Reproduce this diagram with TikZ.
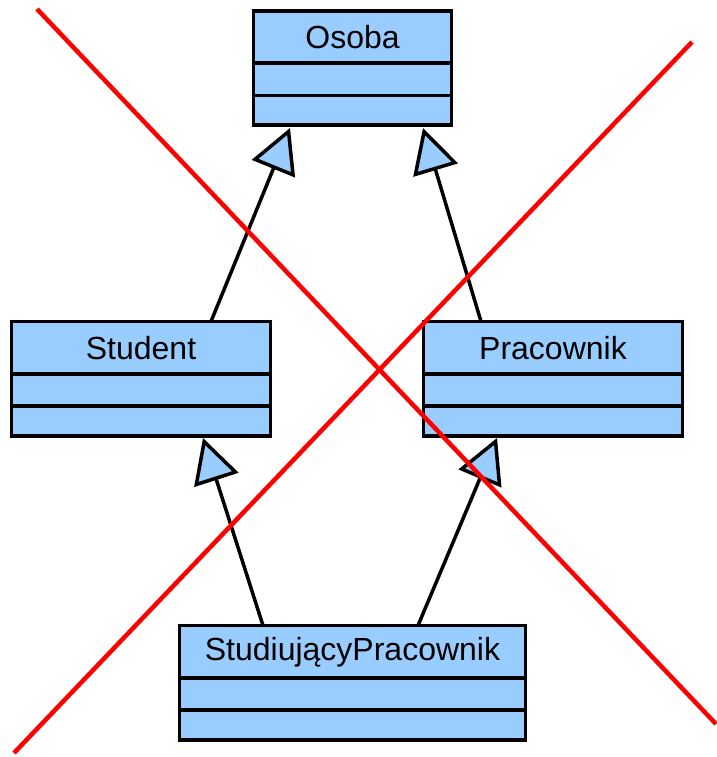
\documentclass[tikz,border=0pt]{standalone}
\usepackage{fontspec}
\setmainfont{Liberation Sans}
\usetikzlibrary{arrows.meta}
\definecolor{umlblue}{RGB}{153,204,255}

% class box: name, centre-line corners and the two divider heights
\newcommand\umlclass[8]{%
  \node[classbox, minimum width=#4-#2, minimum height=#5-#3]
    (#1) at ({(#2+#4)/2},{(#3+#5)/2}) {};
  \node[classname] (#1-name) at ({(#2+#4)/2},{(#3+#6)/2}) {#8};
  \draw[divider] (#1.west |- 0,#6) -- (#1.east |- 0,#6);
  \draw[divider] (#1.west |- 0,#7) -- (#1.east |- 0,#7);
}

\begin{document}
\begin{tikzpicture}[x=1pt,y=-1pt,
  classbox/.style={draw=black, line width=3.5pt, fill=umlblue, inner sep=0pt,
                   outer sep=0pt, line join=miter},
  classname/.style={font=\fontsize{32}{37}\selectfont, inner sep=0pt},
  divider/.style={line width=3.5pt},
  gen/.style={line width=3.5pt,
              -{Triangle[fill=umlblue, length=44pt, width=46pt, line join=miter]}},
  cross/.style={draw=red, line width=4.5pt}]
\useasboundingbox (0,0) rectangle (716,757);

\umlclass{osoba}{253.5}{11}{451.5}{125}{63}{95.5}{Osoba}
\umlclass{student}{11.5}{321.5}{270.5}{436}{374}{406}{Student}
\umlclass{pracownik}{423.5}{321.5}{682.5}{436}{374}{406}{Pracownik}
\umlclass{studprac}{179.5}{625.5}{525.5}{740}{678}{710}{StudiującyPracownik}

% attachment points on the box edges
\coordinate (s-up)  at (211,321.5);
\coordinate (p-up)  at (481,321.5);
\coordinate (o-l)   at (290,128);
\coordinate (o-r)   at (423,128);
\coordinate (sp-l)  at (263,625.5);
\coordinate (sp-r)  at (418,625.5);
\coordinate (s-dn)  at (203,438);
\coordinate (p-dn)  at (497,438);

% generalisations
\draw[gen] (s-up) -- (o-l);
\draw[gen] (p-up) -- (o-r);
\draw[gen] (sp-l) -- (s-dn);
\draw[gen] (sp-r) -- (p-dn);

% crossing-out lines
\coordinate (x1a) at (37,9);
\coordinate (x1b) at (716,724);
\coordinate (x2a) at (692,42);
\coordinate (x2b) at (14,753);
\draw[cross] (x1a) -- (x1b);
\draw[cross] (x2a) -- (x2b);
\end{tikzpicture}
\end{document}
